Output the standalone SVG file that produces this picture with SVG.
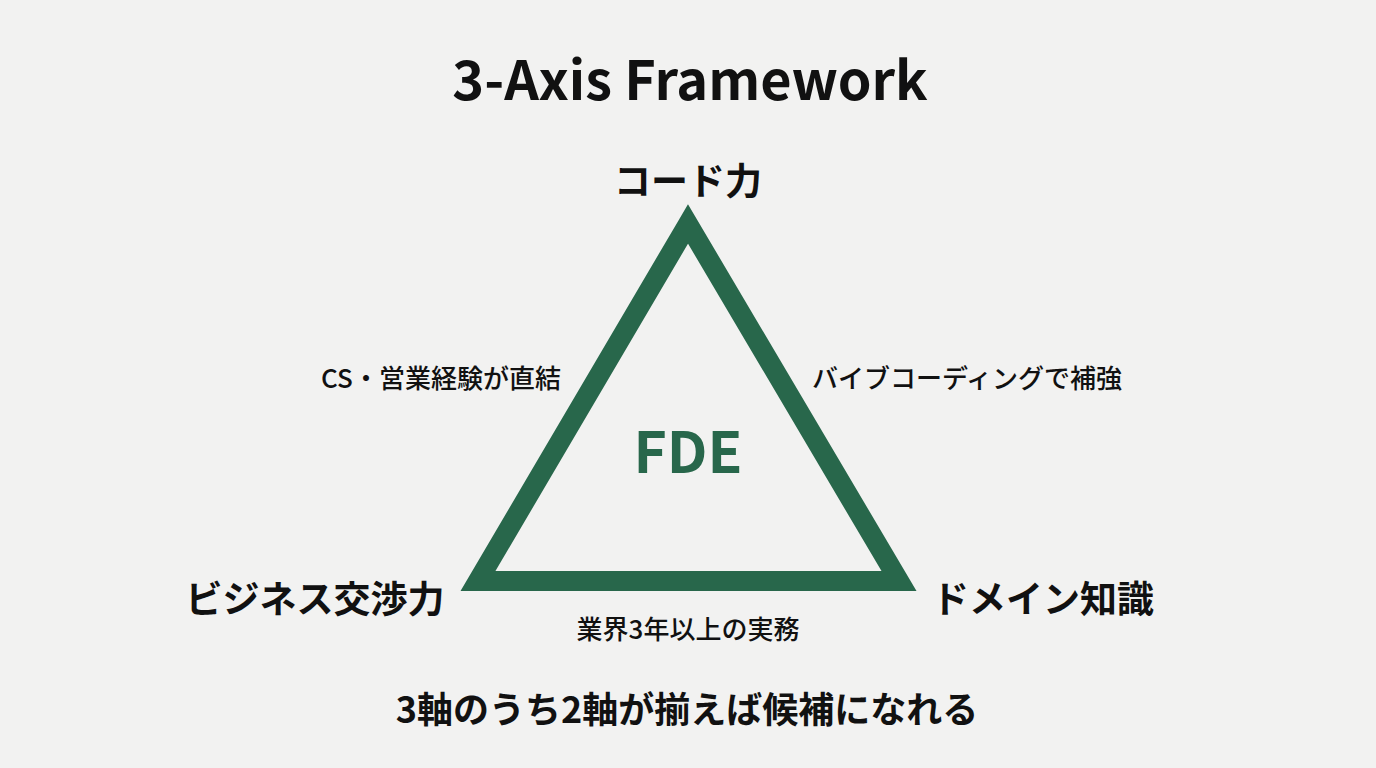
<svg xmlns="http://www.w3.org/2000/svg" width="1376" height="768" viewBox="0 0 1376 768">
<style>
text{font-family:"Noto Sans CJK JP","Noto Sans",sans-serif;fill:#111;text-anchor:middle;font-weight:bold}
.ax{font-size:37px}
.sd{font-size:26px;font-weight:500}
</style>
<rect width="1376" height="768" fill="#f2f2f1"/>
<text x="690" y="100" font-size="54">3-Axis Framework</text>
<g id="connectors">
<polygon points="688,224 478,581 899,581" fill="none" stroke="#28674b" stroke-width="20" stroke-linejoin="miter"/>
</g>
<g id="fde"><text x="688" y="473" font-size="57" style="fill:#28674b">FDE</text></g>
<g id="code"><text class="ax" x="688" y="195">コード力</text></g>
<g id="biz"><text class="ax" x="315" y="613">ビジネス交渉力</text></g>
<g id="domain"><text class="ax" x="1043" y="613">ドメイン知識</text></g>
<g id="labels">
<text class="sd" x="441" y="388">CS・営業経験が直結</text>
<text class="sd" x="967" y="388">バイブコーディングで補強</text>
<text class="sd" x="688" y="639" font-size="27">業界3年以上の実務</text>
</g>
<text x="687" y="723" font-size="36">3軸のうち2軸が揃えば候補になれる</text>
</svg>
